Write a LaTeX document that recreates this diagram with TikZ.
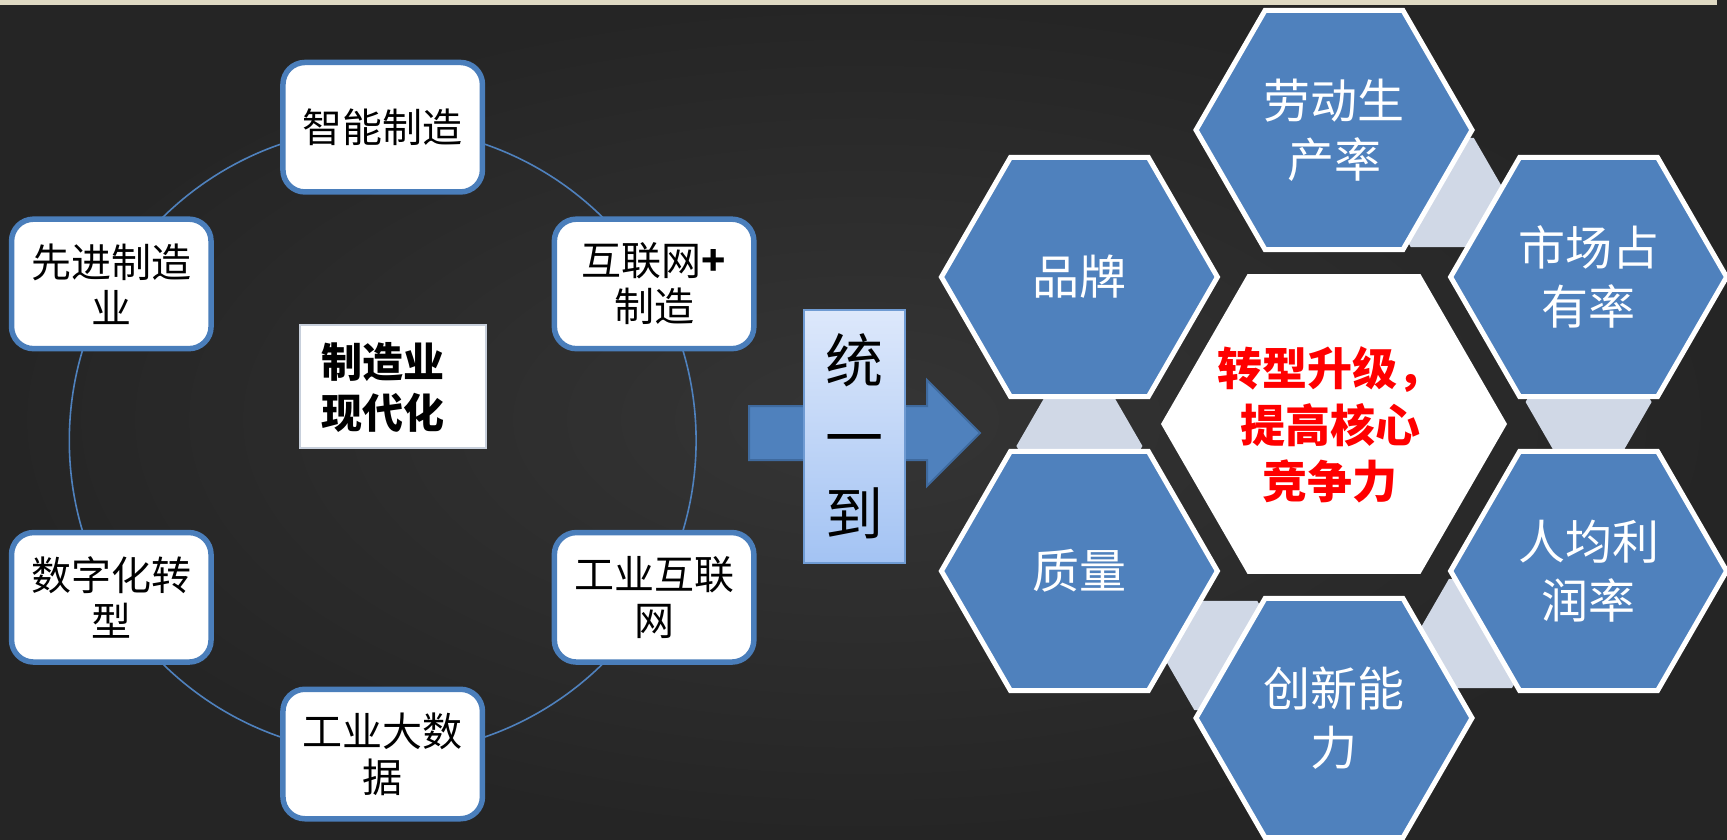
\documentclass[tikz,border=0pt]{standalone}
\usepackage{fontspec}
\setmainfont{Noto Sans CJK SC}
\usetikzlibrary{shapes.geometric}
\definecolor{boardin}{HTML}{353535}
\definecolor{boardout}{HTML}{252525}
\definecolor{beige}{HTML}{DFD9C3}
\definecolor{hexblue}{HTML}{4F81BD}
\definecolor{boxblue}{HTML}{4A7EBB}
\definecolor{ringblue}{HTML}{4F81BD}
\definecolor{linkgray}{HTML}{D0D8E6}
\definecolor{arrowedge}{HTML}{3F6A9E}
\definecolor{tgtop}{HTML}{DDE8FB}
\definecolor{tgbot}{HTML}{A3C3F3}
\definecolor{tgedge}{HTML}{6F9BD3}
\definecolor{coreedge}{HTML}{C7CFDB}
\tikzset{
  mbox/.style={draw=boxblue, line width=5.5pt, fill=white, rounded corners=22pt,
    minimum width=199.5pt, minimum height=129.5pt, inner sep=0pt, align=center,
    text=black, font=\fontsize{40}{46}\selectfont},
  ring/.style={circle, draw=ringblue, line width=1.6pt, minimum size=626.8pt, inner sep=0pt},
  hexo/.style={regular polygon, regular polygon sides=6, minimum size=276pt, inner sep=0pt,
    fill=hexblue, draw=white, line width=5pt, text=white, align=center,
    font=\fontsize{47}{59}\selectfont},
  hexc/.style={regular polygon, regular polygon sides=6, minimum size=346pt, inner sep=0pt,
    fill=white, text=red, align=center, font=\bfseries\fontsize{45}{56.5}\selectfont},
  linkhex/.style={regular polygon, regular polygon sides=6, minimum size=126pt, inner sep=0pt,
    fill=linkgray},
  corebox/.style={draw=coreedge, line width=2pt, fill=white, minimum width=186pt,
    minimum height=123pt, inner sep=0pt},
  coretext/.style={align=center, text=black, font=\bfseries\fontsize{41}{51}\selectfont},
  tgbox/.style={draw=tgedge, line width=1.5pt, top color=tgtop, bottom color=tgbot,
    minimum width=101pt, minimum height=253pt, inner sep=0pt, align=center,
    text=black, font=\fontsize{58}{76.5}\selectfont},
  blockarrow/.style={fill=hexblue, draw=arrowedge, line width=2pt, line join=miter}
}
\begin{document}
\begin{tikzpicture}[x=1pt, y=-1pt]
\useasboundingbox (0,0) rectangle (1727,839);
% background
\shade[inner color=boardin, outer color=boardout] (0,0) rectangle (1727,839);
\fill[beige] (0,0) rectangle (1717,5);

% left cycle
\node[ring] (ring) at (382.7,440.6) {};
\node[mbox] (zn) at (382.7,127.2) {智能制造};
\node[mbox] (hl) at (654.1,283.9) {互联网\textbf{+}\\制造};
\node[mbox] (gh) at (654.1,597.3) {工业互联\\网};
\node[mbox] (gd) at (382.7,754.0) {工业大数\\据};
\node[mbox] (sz) at (111.3,597.3) {数字化转\\型};
\node[mbox] (xj) at (111.3,283.9) {先进制造\\业};
\node[corebox] (core) at (393,386.5) {};
\node[coretext] (coret) at (383,387) {制造业\\现代化};

% block arrow
\coordinate (a1) at (749,406);
\coordinate (a2) at (927,406);
\coordinate (a3) at (927,380);
\coordinate (a4) at (980,433);
\coordinate (a5) at (927,486);
\coordinate (a6) at (927,460);
\coordinate (a7) at (749,460);
\draw[blockarrow] (a1) -- (a2) -- (a3) -- (a4) -- (a5) -- (a6) -- (a7) -- cycle;
\node[tgbox] (tg) at (854.5,436.5) {统\\一\\到};

% link hexagons
\node[linkhex] (c12) at (1442.3,192.5) {};
\node[linkhex] (c23) at (1588.6,402) {};
\node[linkhex] (c34) at (1480.4,633.5) {};
\node[linkhex] (c45) at (1225.8,655.5) {};
\node[linkhex] (c56) at (1079.4,446) {};

% outer hexagons
\node[hexo] (h1) at (1334,130) {劳动生\\产率};
\node[hexo] (h2) at (1588.6,277) {市场占\\有率};
\node[hexo] (h3) at (1588.6,571) {人均利\\润率};
\node[hexo] (h4) at (1334,718) {创新能\\力};
\node[hexo] (h5) at (1079.4,571) {质量};
\node[hexo] (h6) at (1079.4,277) {品牌};

% centre hexagon
\node[hexc] (hc) at (1334,424) {};
\node[align=center, text=red, font=\bfseries\fontsize{45}{56.5}\selectfont] (hct) at (1330,425) {转型升级，\\提高核心\\竞争力};
\end{tikzpicture}
\end{document}
